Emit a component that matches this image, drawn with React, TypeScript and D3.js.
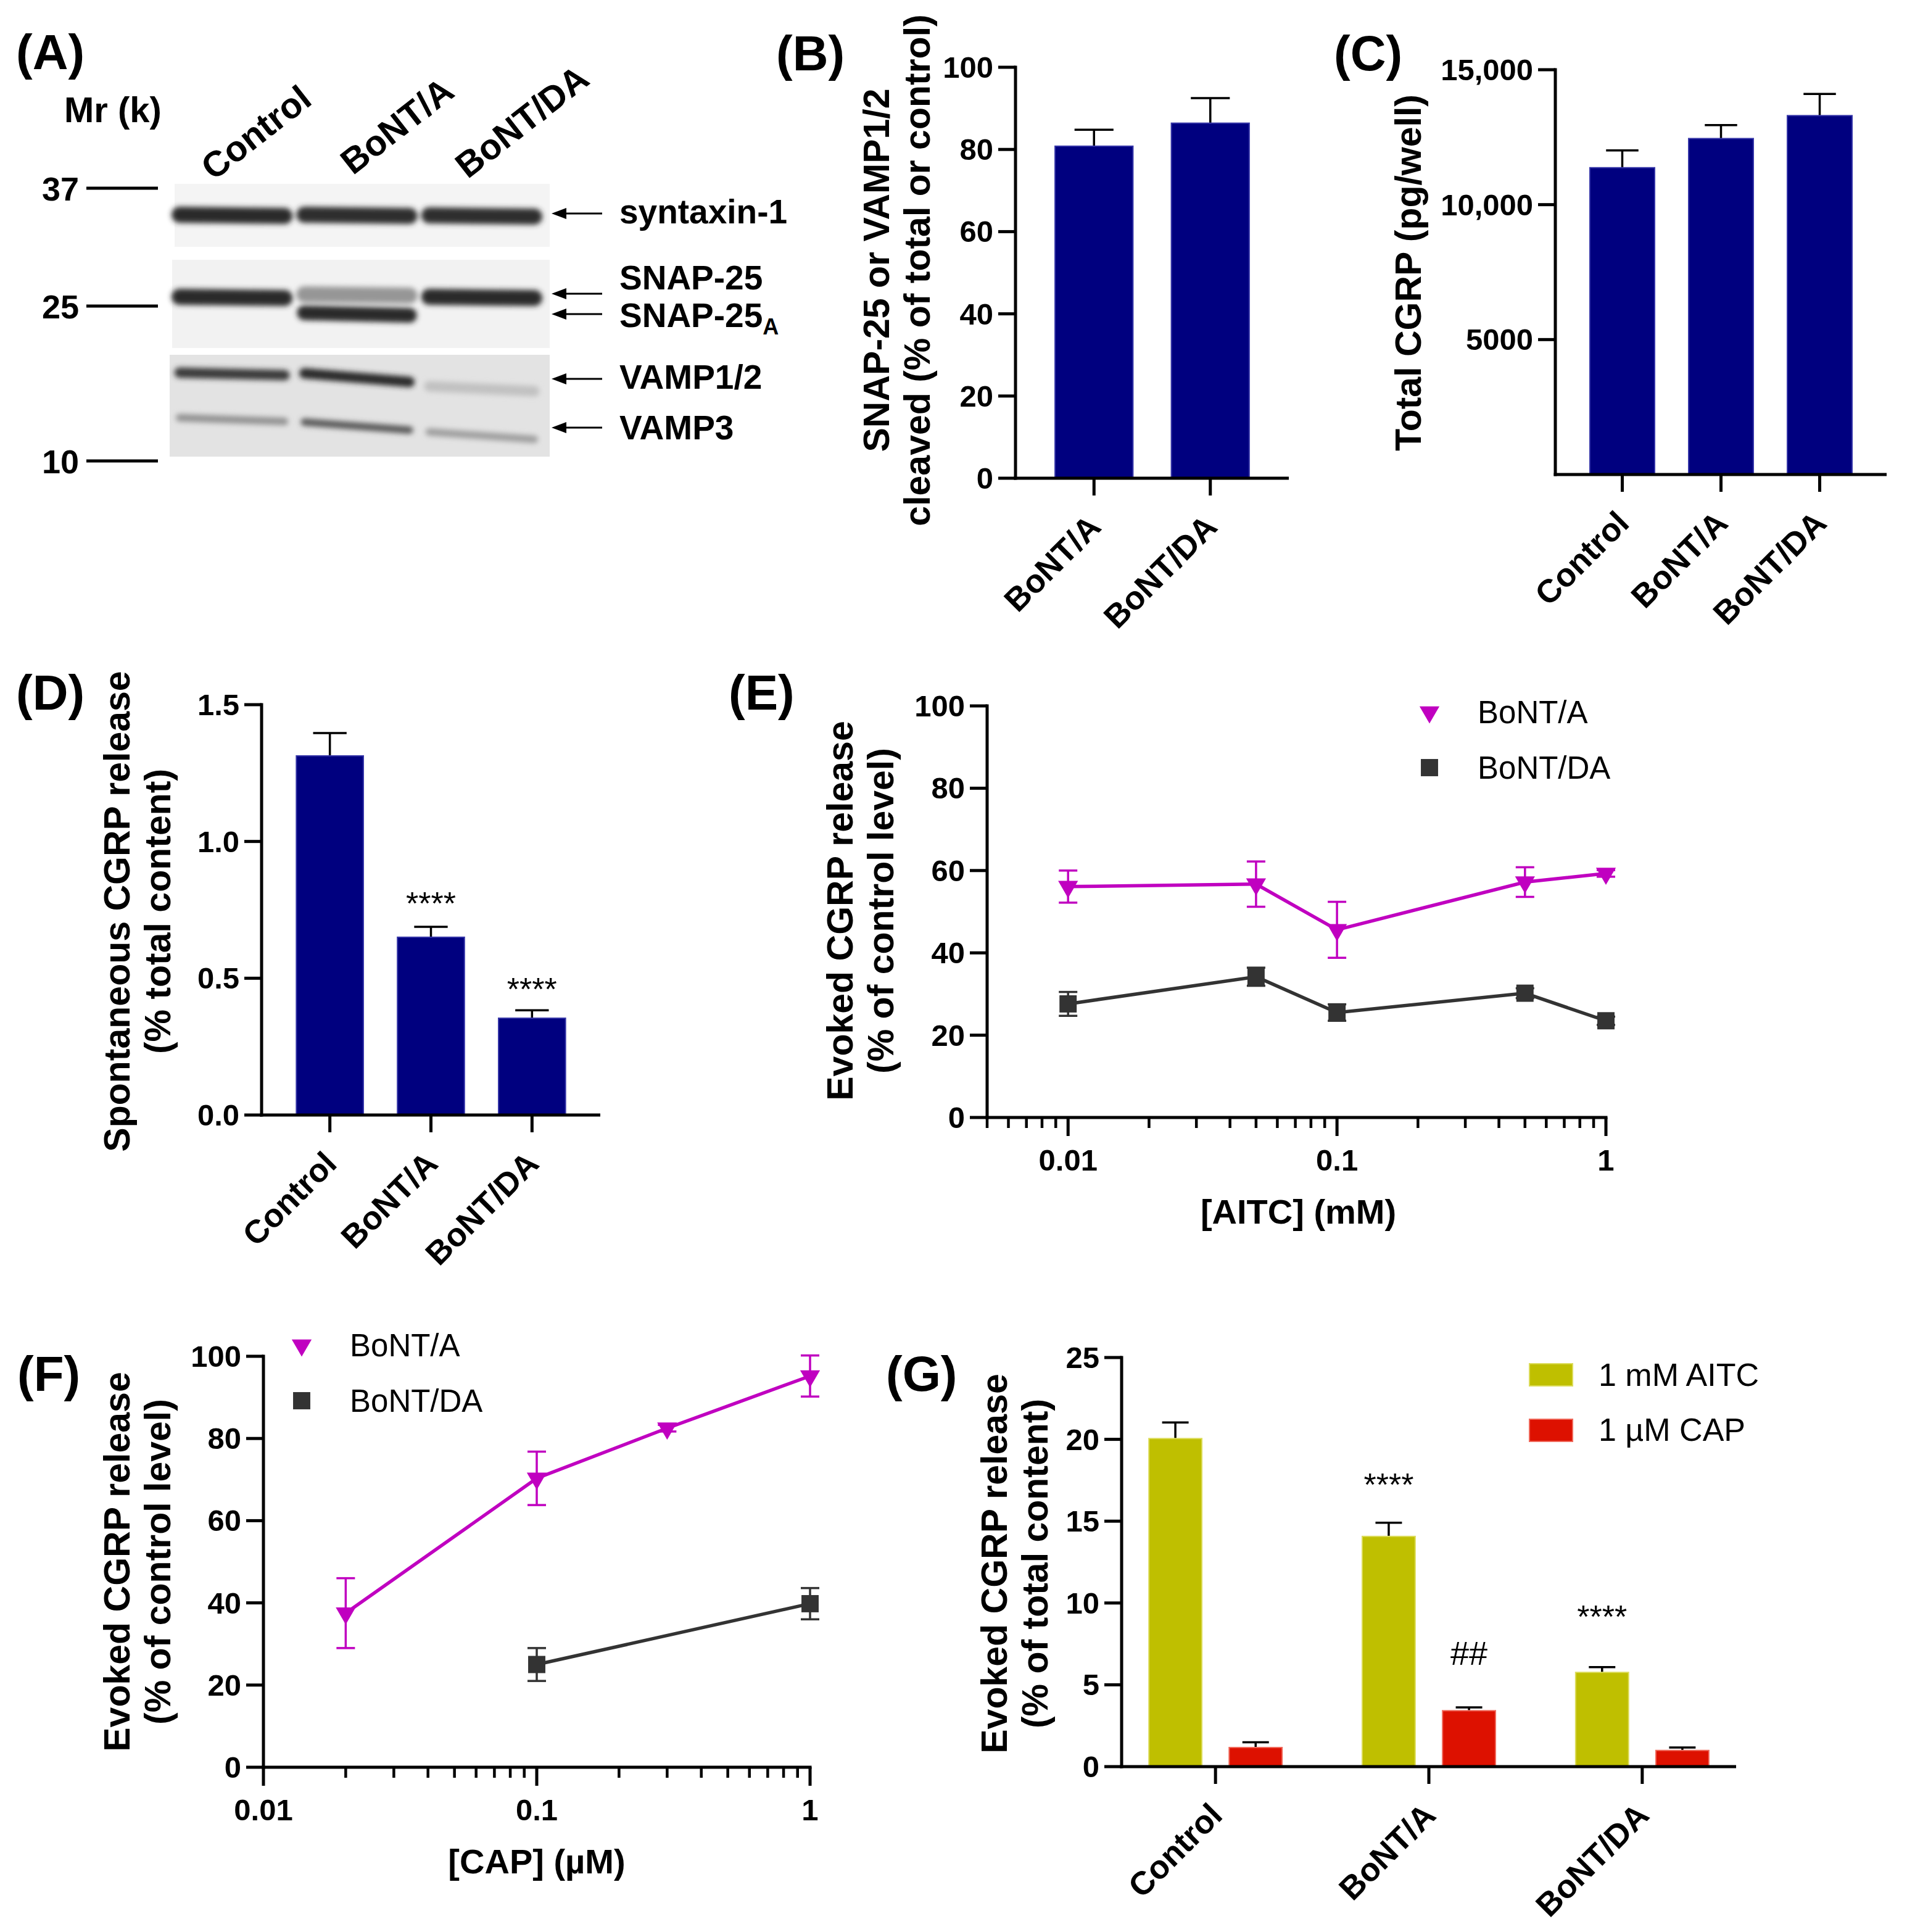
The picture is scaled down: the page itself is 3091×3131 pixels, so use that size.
import React from 'react';
import * as d3 from 'd3';

const FONT = "'Liberation Sans', Arial, Helvetica, sans-serif";
const NAVY = '#00007f';
const NAVY_EDGE = '#3535a8';
const MAGENTA = '#c000c0';
const DARK = '#333333';
const YELLOW = '#bfbf00';
const YELLOW_EDGE = '#dcdc5a';
const RED = '#dd1100';
const RED_EDGE = '#f06a5c';

// ---------- Panel A (western blot) ----------
const blotLanes = ['Control', 'BoNT/A', 'BoNT/DA'];
const blotMarkers = ['37', '25', '10'];
const blotProteins = ['syntaxin-1', 'SNAP-25', 'SNAP-25', 'VAMP1/2', 'VAMP3'];
const syntaxinBand = [0.9, 0.88, 0.88];
const snap25Band = [0.9, 0.4, 0.9];
const snap25ABand = [0, 0.9, 0];
const vamp12Band = [0.82, 0.9, 0.2];
const vamp3Band = [0.42, 0.68, 0.36];

// ---------- Panel B ----------
const bCategories = ['BoNT/A', 'BoNT/DA'];
const bMean = [80.8, 86.4];
const bSem = [4.0, 6.1];
const bTicks = [0, 20, 40, 60, 80, 100];

// ---------- Panel C ----------
const cCategories = ['Control', 'BoNT/A', 'BoNT/DA'];
const cMean = [11370, 12450, 13300];
const cSem = [640, 500, 800];
const cTicks = [5000, 10000, 15000];
const cTickLabels = ['5000', '10,000', '15,000'];

// ---------- Panel D ----------
const dCategories = ['Control', 'BoNT/A', 'BoNT/DA'];
const dMean = [1.313, 0.65, 0.354];
const dSem = [0.083, 0.038, 0.029];
const dSig = ['', '****', '****'];
const dSigAt = [0, 0.8, 0.487];
const dTicks = [0, 0.5, 1.0, 1.5];
const dTickLabels = ['0.0', '0.5', '1.0', '1.5'];

// ---------- Panel E ----------
const eDose = [0.01, 0.05, 0.1, 0.5, 1];
const eBoNTA = [56.1, 56.7, 45.6, 57.2, 59.3];
const eBoNTAErr = [3.9, 5.5, 6.8, 3.6, 0.8];
const eBoNTDA = [27.6, 34.2, 25.5, 30.2, 23.5];
const eBoNTDAErr = [2.9, 2.2, 2.0, 1.2, 1.0];
const eYTicks = [0, 20, 40, 60, 80, 100];

// ---------- Panel F ----------
const fDoseA = [0.02, 0.1, 0.3, 1];
const fBoNTA = [37.5, 70.3, 82.5, 95.2];
const fBoNTAErr = [8.5, 6.5, 0.8, 5.0];
const fDoseDA = [0.1, 1];
const fBoNTDA = [25.0, 39.8];
const fBoNTDAErr = [4.0, 3.8];
const fYTicks = [0, 20, 40, 60, 80, 100];

// ---------- Panel G ----------
const gGroups = ['Control', 'BoNT/A', 'BoNT/DA'];
const gStimuli = ['1 mM AITC', '1 µM CAP'];
const gAITC = [20.05, 14.07, 5.76];
const gAITCErr = [0.98, 0.83, 0.32];
const gCAP = [1.17, 3.42, 0.99];
const gCAPErr = [0.32, 0.2, 0.18];
const gAITCSig = ['', '****', '****'];
const gAITCSigAt = [0, 17.7, 9.6];
const gCAPSig = ['', '##', ''];
const gCAPSigAt = [0, 6.9, 0];
const gTicks = [0, 5, 10, 15, 20, 25];

const seriesNames = ['BoNT/A', 'BoNT/DA'];

// ---------- helpers ----------
const AX = 5;
const TICK = 28;
const TICK_FS = 49;
const TITLE_FS = 59;
const CAT_FS = 53;

function YAxis({ y, x, ticks, labels }: any) {
  const [b, t] = y.range();
  return (
    <g>
      <line x1={x} x2={x} y1={b + AX / 2} y2={t - AX / 2} stroke="#000" strokeWidth={AX} />
      {ticks.map((v: number, i: number) => (
        <g key={i}>
          <line x1={x - TICK} x2={x} y1={y(v)} y2={y(v)} stroke="#000" strokeWidth={AX} />
          <text x={x - TICK - 8} y={y(v) + 17} textAnchor="end" fontSize={TICK_FS} fontWeight="bold">
            {labels ? labels[i] : String(v)}
          </text>
        </g>
      ))}
    </g>
  );
}

function CatXAxis({ x0, x1, yA, centers, labels }: any) {
  return (
    <g>
      <line x1={x0 - AX / 2} x2={x1} y1={yA} y2={yA} stroke="#000" strokeWidth={AX} />
      {centers.map((c: number, i: number) => (
        <g key={i}>
          <line x1={c} x2={c} y1={yA} y2={yA + TICK} stroke="#000" strokeWidth={AX} />
          <text
            transform={`translate(${c + 14},${yA + 82}) rotate(-45)`}
            textAnchor="end"
            fontSize={CAT_FS}
            fontWeight="bold"
          >
            {labels[i]}
          </text>
        </g>
      ))}
    </g>
  );
}

function YTitle({ x, cy, lines }: any) {
  return (
    <g>
      {lines.map((l: string, i: number) => (
        <text
          key={i}
          transform={`translate(${x + i * 66},${cy}) rotate(-90)`}
          textAnchor="middle"
          fontSize={TITLE_FS}
          fontWeight="bold"
        >
          {l}
        </text>
      ))}
    </g>
  );
}

function Bar({ x, w, y, yBase, v, e, fill, edge }: any) {
  const top = y(v);
  const cap = y(v + e);
  const cx = x + w / 2;
  return (
    <g>
      <line x1={cx} x2={cx} y1={top} y2={cap} stroke="#000" strokeWidth={3.5} />
      <line x1={cx - w / 4} x2={cx + w / 4} y1={cap} y2={cap} stroke="#000" strokeWidth={3.5} />
      <rect x={x} y={top} width={w} height={yBase - top} fill={fill} stroke={edge} strokeWidth={2} />
    </g>
  );
}

function PanelLabel({ x, y, t }: any) {
  return (
    <text x={x} y={y} fontSize={80} fontWeight="bold">
      {t}
    </text>
  );
}

// ---------- Panel A ----------
function PanelA() {
  const lane = d3.scaleBand<string>().domain(blotLanes).range([281, 876]).paddingInner(0.08).paddingOuter(0.01);
  const markerY = d3.scaleOrdinal<string, number>().domain(blotMarkers).range([305, 496, 747]);
  const shade = d3.scaleLinear<string>().domain([0, 1]).range(['#ececec', '#141414']);
  const strips = [
    { x: 283, y: 298, w: 608, h: 102, fill: '#f4f4f4' },
    { x: 279, y: 421, w: 612, h: 143, fill: '#f2f2f2' },
    { x: 275, y: 575, w: 616, h: 165, fill: '#e3e3e3' },
  ];
  // band rows: [yLeft, yRight] per lane, thickness
  const rows = [
    { vals: syntaxinBand, ys: [[348, 350], [348, 350], [349, 351]], h: 26 },
    { vals: snap25Band, ys: [[481, 483], [477, 479], [481, 483]], h: 26 },
    { vals: snap25ABand, ys: [[509, 509], [507, 511], [509, 509]], h: 24 },
    { vals: vamp12Band, ys: [[604, 608], [605, 619], [626, 634]], h: 17 },
    { vals: vamp3Band, ys: [[677, 683], [684, 697], [700, 712]], h: 12 },
  ];
  const arrows = [
    { y: 346, label: blotProteins[0], ty: 362, sub: false },
    { y: 476, label: blotProteins[1], ty: 469, sub: false },
    { y: 509, label: blotProteins[2], ty: 530, sub: true },
    { y: 614, label: blotProteins[3], ty: 630, sub: false },
    { y: 693, label: blotProteins[4], ty: 712, sub: false },
  ];
  const laneLabelPos = [
    [346, 294],
    [572, 285],
    [758, 291],
  ];
  return (
    <g>
      <defs>
        <filter id="blur" x="-20%" y="-200%" width="140%" height="500%">
          <feGaussianBlur stdDeviation="4" />
        </filter>
      </defs>
      <PanelLabel x={26} y={112} t="(A)" />
      <text x={104} y={198} fontSize={58} fontWeight="bold">
        Mr (k)
      </text>
      {blotLanes.map((l, i) => (
        <text
          key={l}
          transform={`translate(${laneLabelPos[i][0]},${laneLabelPos[i][1]}) rotate(-38)`}
          fontSize={58}
          fontWeight="bold"
        >
          {l}
        </text>
      ))}
      {blotMarkers.map((m) => (
        <g key={m}>
          <text x={128} y={markerY(m) + 20} textAnchor="end" fontSize={54} fontWeight="bold">
            {m}
          </text>
          <line x1={140} x2={256} y1={markerY(m)} y2={markerY(m)} stroke="#000" strokeWidth={5} />
        </g>
      ))}
      {strips.map((s, i) => (
        <rect key={i} x={s.x} y={s.y} width={s.w} height={s.h} fill={s.fill} />
      ))}
      <g filter="url(#blur)">
        {rows.map((r, ri) =>
          blotLanes.map((l, li) =>
            r.vals[li] > 0 ? (
              <line
                key={`${ri}-${li}`}
                x1={(lane(l) as number) + 8}
                x2={(lane(l) as number) + lane.bandwidth() - 8}
                y1={r.ys[li][0]}
                y2={r.ys[li][1]}
                stroke={shade(r.vals[li])}
                strokeWidth={r.h}
                strokeLinecap="round"
              />
            ) : null
          )
        )}
      </g>
      {arrows.map((a, i) => (
        <g key={i}>
          <polygon points={`894,${a.y} 918,${a.y - 9} 918,${a.y + 9}`} fill="#000" />
          <line x1={914} x2={976} y1={a.y} y2={a.y} stroke="#000" strokeWidth={3} />
          <text x={1004} y={a.ty} fontSize={55} fontWeight="bold">
            {a.label}
            {a.sub ? (
              <tspan fontSize={36} dy={12}>
                A
              </tspan>
            ) : null}
          </text>
        </g>
      ))}
    </g>
  );
}

// ---------- Panel B ----------
function PanelB() {
  const F = { x0: 1646, x1: 2089, yTop: 109, yBot: 775 };
  const x = d3.scaleBand<string>().domain(bCategories).range([F.x0, F.x1]).paddingInner(0.33).paddingOuter(0.34);
  const y = d3.scaleLinear().domain([0, 100]).range([F.yBot, F.yTop]);
  return (
    <g>
      <PanelLabel x={1258} y={114} t="(B)" />
      <YTitle x={1441} cy={438} lines={['SNAP-25 or VAMP1/2', 'cleaved (% of total or control)']} />
      {bCategories.map((c, i) => (
        <Bar key={c} x={x(c)} w={x.bandwidth()} y={y} yBase={F.yBot} v={bMean[i]} e={bSem[i]} fill={NAVY} edge={NAVY_EDGE} />
      ))}
      <YAxis y={y} x={F.x0} ticks={bTicks} />
      <CatXAxis x0={F.x0} x1={F.x1} yA={F.yBot} centers={bCategories.map((c) => (x(c) as number) + x.bandwidth() / 2)} labels={bCategories} />
    </g>
  );
}

// ---------- Panel C ----------
function PanelC() {
  const F = { x0: 2521, x1: 3058, yTop: 113, yBot: 769 };
  const x = d3.scaleBand<string>().domain(cCategories).range([F.x0, F.x1]).paddingInner(0.344).paddingOuter(0.35);
  const y = d3.scaleLinear().domain([0, 15000]).range([F.yBot, F.yTop]);
  return (
    <g>
      <PanelLabel x={2162} y={114} t="(C)" />
      <YTitle x={2303} cy={442} lines={['Total CGRP (pg/well)']} />
      {cCategories.map((c, i) => (
        <Bar key={c} x={x(c)} w={x.bandwidth()} y={y} yBase={F.yBot} v={cMean[i]} e={cSem[i]} fill={NAVY} edge={NAVY_EDGE} />
      ))}
      <YAxis y={y} x={F.x0} ticks={cTicks} labels={cTickLabels} />
      <CatXAxis x0={F.x0} x1={F.x1} yA={F.yBot} centers={cCategories.map((c) => (x(c) as number) + x.bandwidth() / 2)} labels={cCategories} />
    </g>
  );
}

// ---------- Panel D ----------
function PanelD() {
  const F = { x0: 424, x1: 973, yTop: 1142, yBot: 1807 };
  const x = d3.scaleBand<string>().domain(dCategories).range([F.x0, F.x1]).paddingInner(0.337).paddingOuter(0.344);
  const y = d3.scaleLinear().domain([0, 1.5]).range([F.yBot, F.yTop]);
  return (
    <g>
      <PanelLabel x={26} y={1150} t="(D)" />
      <YTitle x={210} cy={1477} lines={['Spontaneous CGRP release', '(% total content)']} />
      {dCategories.map((c, i) => (
        <Bar key={c} x={x(c)} w={x.bandwidth()} y={y} yBase={F.yBot} v={dMean[i]} e={dSem[i]} fill={NAVY} edge={NAVY_EDGE} />
      ))}
      {dCategories.map((c, i) =>
        dSig[i] ? (
          <text key={c} x={(x(c) as number) + x.bandwidth() / 2} y={y(dSigAt[i]) + 30} textAnchor="middle" fontSize={52}>
            {dSig[i]}
          </text>
        ) : null
      )}
      <YAxis y={y} x={F.x0} ticks={dTicks} labels={dTickLabels} />
      <CatXAxis x0={F.x0} x1={F.x1} yA={F.yBot} centers={dCategories.map((c) => (x(c) as number) + x.bandwidth() / 2)} labels={dCategories} />
    </g>
  );
}

// ---------- log dose-response panels ----------
const triSym = d3.symbol().type(d3.symbolTriangle).size(450)();
const sqSym = d3.symbol().type(d3.symbolSquare).size(780)();

function LogXAxis({ x, yA, title }: any) {
  const [r0, r1] = x.range();
  const all: number[] = x.ticks();
  const isMajor = (t: number) => Math.abs(Math.log10(t) - Math.round(Math.log10(t))) < 1e-6;
  const fmt = d3.format('~g');
  return (
    <g>
      <line x1={r0 - AX / 2} x2={r1 + AX / 2} y1={yA} y2={yA} stroke="#000" strokeWidth={AX} />
      {all.map((t, i) =>
        isMajor(t) ? (
          <g key={i}>
            <line x1={x(t)} x2={x(t)} y1={yA} y2={yA + 30} stroke="#000" strokeWidth={AX} />
            <text x={x(t)} y={yA + 86} textAnchor="middle" fontSize={TICK_FS} fontWeight="bold">
              {fmt(t)}
            </text>
          </g>
        ) : (
          <line key={i} x1={x(t)} x2={x(t)} y1={yA} y2={yA + 17} stroke="#000" strokeWidth={4.5} />
        )
      )}
      <text x={(r0 + r1) / 2 + title.dx} y={yA + 172} textAnchor="middle" fontSize={56} fontWeight="bold">
        {title.text}
      </text>
    </g>
  );
}

function Series({ x, y, xs, ys, es, color, sym, capW = 30 }: any) {
  const line = d3
    .line<number>()
    .x((_, i) => x(xs[i]))
    .y((d) => y(d));
  return (
    <g>
      <path d={line(ys) || ''} fill="none" stroke={color} strokeWidth={5.5} />
      {ys.map((v: number, i: number) => {
        const cx = x(xs[i]);
        return (
          <g key={i} stroke={color} strokeWidth={3.5}>
            <line x1={cx} x2={cx} y1={y(v + es[i])} y2={y(v - es[i])} />
            <line x1={cx - capW / 2} x2={cx + capW / 2} y1={y(v + es[i])} y2={y(v + es[i])} />
            <line x1={cx - capW / 2} x2={cx + capW / 2} y1={y(v - es[i])} y2={y(v - es[i])} />
          </g>
        );
      })}
      {ys.map((v: number, i: number) => (
        <path
          key={i}
          d={sym === 'tri' ? triSym || '' : sqSym || ''}
          transform={`translate(${x(xs[i])},${y(v)})${sym === 'tri' ? ' rotate(180)' : ''}`}
          fill={color}
        />
      ))}
    </g>
  );
}

function Legend({ x, y, dy, items }: any) {
  return (
    <g>
      {items.map((it: any, i: number) => (
        <g key={i}>
          <path
            d={it.sym === 'tri' ? triSym || '' : sqSym || ''}
            transform={`translate(${x},${y + i * dy})${it.sym === 'tri' ? ' rotate(180)' : ''}`}
            fill={it.color}
          />
          <text x={x + 78} y={y + i * dy + 18} fontSize={51}>
            {it.label}
          </text>
        </g>
      ))}
    </g>
  );
}

function PanelE() {
  const F = { x0: 1600, x1: 2603, yTop: 1144, yBot: 1811 };
  const x = d3.scaleLog().domain([0.005, 1]).range([F.x0, F.x1]);
  const y = d3.scaleLinear().domain([0, 100]).range([F.yBot, F.yTop]);
  return (
    <g>
      <PanelLabel x={1181} y={1150} t="(E)" />
      <YTitle x={1382} cy={1476} lines={['Evoked CGRP release', '(% of control level)']} />
      <Series x={x} y={y} xs={eDose} ys={eBoNTDA} es={eBoNTDAErr} color={DARK} sym="sq" />
      <Series x={x} y={y} xs={eDose} ys={eBoNTA} es={eBoNTAErr} color={MAGENTA} sym="tri" />
      <YAxis y={y} x={F.x0} ticks={eYTicks} />
      <LogXAxis x={x} yA={F.yBot} title={{ text: '[AITC] (mM)', dx: 3 }} />
      <Legend
        x={2317}
        y={1154}
        dy={90}
        items={[
          { sym: 'tri', color: MAGENTA, label: seriesNames[0] },
          { sym: 'sq', color: DARK, label: seriesNames[1] },
        ]}
      />
    </g>
  );
}

function PanelF() {
  const F = { x0: 427, x1: 1313, yTop: 2198, yBot: 2864 };
  const x = d3.scaleLog().domain([0.01, 1]).range([F.x0, F.x1]);
  const y = d3.scaleLinear().domain([0, 100]).range([F.yBot, F.yTop]);
  return (
    <g>
      <PanelLabel x={28} y={2254} t="(F)" />
      <YTitle x={210} cy={2531} lines={['Evoked CGRP release', '(% of control level)']} />
      <Series x={x} y={y} xs={fDoseDA} ys={fBoNTDA} es={fBoNTDAErr} color={DARK} sym="sq" />
      <Series x={x} y={y} xs={fDoseA} ys={fBoNTA} es={fBoNTAErr} color={MAGENTA} sym="tri" />
      <YAxis y={y} x={F.x0} ticks={fYTicks} />
      <LogXAxis x={x} yA={F.yBot} title={{ text: '[CAP] (µM)', dx: 0 }} />
      <Legend
        x={489}
        y={2180}
        dy={90}
        items={[
          { sym: 'tri', color: MAGENTA, label: seriesNames[0] },
          { sym: 'sq', color: DARK, label: seriesNames[1] },
        ]}
      />
    </g>
  );
}

function PanelG() {
  const F = { x0: 1818, x1: 2814, yTop: 2200, yBot: 2863 };
  const gx = d3.scalePoint<string>().domain(gGroups).range([F.x0, F.x1]).padding(0.44);
  const inner = d3.scaleBand<string>().domain(gStimuli).range([-108, 108]).paddingInner(0.34);
  const y = d3.scaleLinear().domain([0, 25]).range([F.yBot, F.yTop]);
  const bw = inner.bandwidth();
  const series = [
    { key: gStimuli[0], vals: gAITC, errs: gAITCErr, sig: gAITCSig, sigAt: gAITCSigAt, fill: YELLOW, edge: YELLOW_EDGE, sfs: 52 },
    { key: gStimuli[1], vals: gCAP, errs: gCAPErr, sig: gCAPSig, sigAt: gCAPSigAt, fill: RED, edge: RED_EDGE, sfs: 54 },
  ];
  return (
    <g>
      <PanelLabel x={1436} y={2254} t="(G)" />
      <YTitle x={1632} cy={2534} lines={['Evoked CGRP release', '(% of total content)']} />
      {gGroups.map((g, gi) =>
        series.map((s) => {
          const bx = (gx(g) as number) + (inner(s.key) as number);
          return (
            <g key={`${g}-${s.key}`}>
              <Bar x={bx} w={bw} y={y} yBase={F.yBot} v={s.vals[gi]} e={s.errs[gi]} fill={s.fill} edge={s.edge} />
              {s.sig[gi] ? (
                <text
                  x={bx + bw / 2}
                  y={y(s.sigAt[gi]) + (s.sig[gi] === '##' ? 18 : 30)}
                  textAnchor="middle"
                  fontSize={s.sfs}
                >
                  {s.sig[gi]}
                </text>
              ) : null}
            </g>
          );
        })
      )}
      <YAxis y={y} x={F.x0} ticks={gTicks} />
      <CatXAxis x0={F.x0} x1={F.x1} yA={F.yBot} centers={gGroups.map((g) => gx(g) as number)} labels={gGroups} />
      {series.map((s, i) => (
        <g key={s.key}>
          <rect x={2479} y={2210 + i * 90} width={70} height={36} fill={s.fill} stroke={s.edge} strokeWidth={2} />
          <text x={2591} y={2246 + i * 89} fontSize={52}>
            {s.key}
          </text>
        </g>
      ))}
    </g>
  );
}

export default function App() {
  return (
    <div style={{ position: 'absolute', left: 0, top: 0, background: '#fff' }}>
      <svg width={3091} height={3131} viewBox="0 0 3091 3131" style={{ display: 'block', fontFamily: FONT }}>
        <rect width={3091} height={3131} fill="#fff" />
        <PanelA />
        <PanelB />
        <PanelC />
        <PanelD />
        <PanelE />
        <PanelF />
        <PanelG />
      </svg>
    </div>
  );
}
